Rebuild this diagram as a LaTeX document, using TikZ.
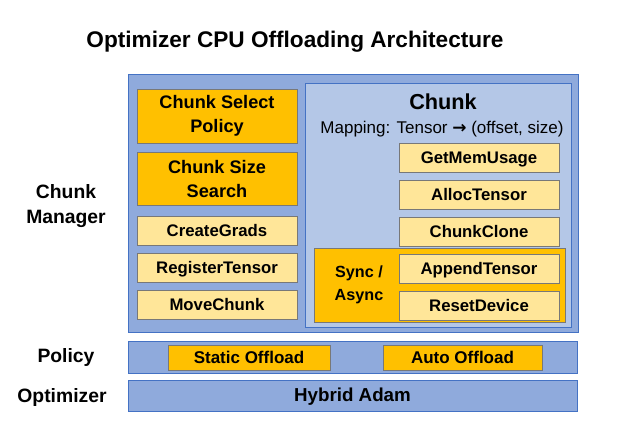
\documentclass[tikz,border=0pt]{standalone}
\usepackage{fontspec}
\setmainfont{Liberation Sans}
\newfontfamily\arrowfont{DejaVu Sans}
\usetikzlibrary{positioning}
\definecolor{MgrBlue}{RGB}{143,170,220}
\definecolor{ChunkBlue}{RGB}{180,199,231}
\definecolor{EdgeBlue}{RGB}{68,114,196}
\definecolor{GoldFill}{RGB}{255,192,0}
\definecolor{PaleGold}{RGB}{255,230,153}
\definecolor{BoxEdge}{RGB}{120,120,120}
\tikzset{
  layer/.style={draw=EdgeBlue,fill=MgrBlue,line width=0.8pt,inner sep=0pt},
  chunkarea/.style={draw=EdgeBlue,fill=ChunkBlue,line width=0.6pt,inner sep=0pt},
  oneline/.style={text height=1.9ex,text depth=0pt},
  goldbox/.style={draw=BoxEdge,fill=GoldFill,line width=0.6pt,minimum width=4.8cm,
    align=center,inner sep=0pt,font=\bfseries\fontsize{15.5}{20}\selectfont},
  opbox/.style={draw=BoxEdge,fill=PaleGold,line width=0.6pt,minimum width=4.8cm,
    minimum height=0.87cm,inner sep=0pt,oneline,font=\bfseries\fontsize{14.3}{17}\selectfont},
  sidelabel/.style={align=center,font=\bfseries\fontsize{16.5}{21}\selectfont}
}

\begin{document}
\begin{tikzpicture}[x=0.03cm,y=-0.03cm,node distance=0.22cm]
  \useasboundingbox (0,0) rectangle (628,432);
  \node[font=\bfseries\fontsize{19.3}{23}\selectfont] (title) at (295,42) {Optimizer CPU Offloading Architecture};

  % chunk manager layer
  \node[layer,minimum width=13.5cm,minimum height=7.74cm] (mgr) at (353,203) {};
  \node[chunkarea,minimum width=7.98cm,minimum height=7.32cm] (chunk) at (438,205) {};
  \node[font=\bfseries\fontsize{18.5}{22}\selectfont] (chunktitle) at (443,102) {Chunk};
  \node[font=\fontsize{14.5}{17}\selectfont] (mapping) at (442,129) {Mapping: Tensor {\arrowfont\bfseries →} (offset, size)};

  \node[goldbox,minimum height=1.62cm] (csp) at (217,116) {Chunk Select\\Policy};
  \node[goldbox,minimum height=1.59cm,below=0.27cm of csp] (css) {Chunk Size\\Search};
  \node[opbox,below=0.3cm of css] (grads) {CreateGrads};
  \node[opbox,below=of grads] (regt) {RegisterTensor};
  \node[opbox,below=of regt] (move) {MoveChunk};

  \node[draw=BoxEdge,fill=GoldFill,line width=0.6pt,minimum width=7.53cm,minimum height=2.22cm] (sync) at (439.5,285) {};
  \node[sidelabel,font=\bfseries\fontsize{13.8}{19.5}\selectfont] (synclbl) at (359,285) {Sync /\\Async};
  \node[opbox] (mem) at (479,157.5) {GetMemUsage};
  \node[opbox,below=of mem] (alloc) {AllocTensor};
  \node[opbox,below=of alloc] (clone) {ChunkClone};
  \node[opbox,below=of clone] (append) {AppendTensor};
  \node[opbox,below=of append] (reset) {ResetDevice};

  % policy and optimizer layers
  \node[layer,minimum width=13.47cm,minimum height=0.96cm] (policy) at (352.5,357) {};
  \node[goldbox,oneline,minimum width=4.86cm,minimum height=0.75cm,font=\bfseries\fontsize{14.5}{17}\selectfont] (static) at (249,357.5) {Static Offload};
  \node[goldbox,oneline,minimum width=4.77cm,minimum height=0.75cm,font=\bfseries\fontsize{14.5}{17}\selectfont] (auto) at (462.5,357.5) {Auto Offload};
  \node[layer,oneline,minimum width=13.47cm,minimum height=0.93cm,font=\bfseries\fontsize{16}{19}\selectfont] (optim) at (352.5,395.5) {Hybrid Adam};

  \node[sidelabel] (mgrlbl) at (66,206) {Chunk\\Manager};
  \node[sidelabel] (policylbl) at (66,357) {Policy};
  \node[sidelabel] (optimlbl) at (62,397) {Optimizer};
\end{tikzpicture}
\end{document}
